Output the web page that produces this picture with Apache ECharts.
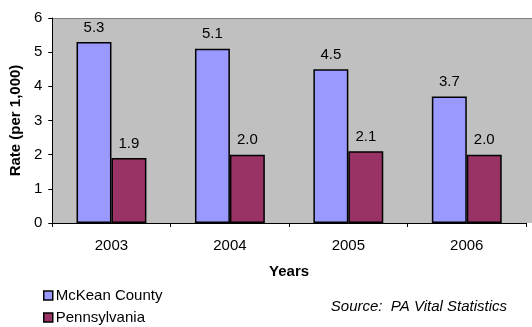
<!DOCTYPE html>
<html>
<head>
<meta charset="utf-8">
<script src="https://cdn.jsdelivr.net/npm/echarts@6/dist/echarts.min.js"></script>
<style>
  html, body { margin: 0; padding: 0; background: #fff; }
  #chart { width: 532px; height: 327px; }
</style>
</head>
<body>
<div id="chart"></div>
<script>
"use strict";
// data
var years = ["2003", "2004", "2005", "2006"];
var mckean = [5.3, 5.1, 4.5, 3.7];
var penn = [1.9, 2.0, 2.1, 2.0];
var yTicks = [0, 1, 2, 3, 4, 5, 6];

var chart = echarts.init(document.getElementById("chart"));
var font = "'Liberation Sans', Arial, sans-serif";

var barLabel = {
  show: true,
  position: "top",
  distance: 7,
  color: "#000",
  fontFamily: font,
  fontSize: 15,
  formatter: function (p) { return p.value.toFixed(1); }
};

// one legend per row, stacked
function legendRow(name, top) {
  return {
    left: 38, top: top,
    itemWidth: 9, itemHeight: 9,
    icon: "rect",
    textStyle: { fontSize: 15, color: "#000", fontFamily: font, padding: [0, 0, 0, -2] },
    data: [{ name: name, itemStyle: { borderColor: "#000", borderWidth: 1.5 } }]
  };
}

chart.setOption({
  animation: false,
  textStyle: { fontFamily: font },
  grid: {
    left: 51, right: 6, top: 18, bottom: 104,
    show: true, backgroundColor: "#c0c0c0", borderWidth: 0
  },
  graphic: [
    // plot background runs on to the right edge
    { type: "rect", shape: { x: 526, y: 18, width: 6, height: 205 }, style: { fill: "#c0c0c0" }, z: -1 },
    { type: "line", shape: { x1: 51, y1: 18.5, x2: 532, y2: 18.5 }, style: { stroke: "#808080", lineWidth: 1 } },
    { type: "text", right: 25, top: 299, style: { text: "Source:  PA Vital Statistics", font: "italic 15px " + font, fill: "#000" } }
  ],
  legend: [legendRow("McKean County", 283), legendRow("Pennsylvania", 305)],
  xAxis: {
    type: "category",
    data: years,
    name: "Years",
    nameLocation: "middle",
    nameGap: 41,
    nameTextStyle: { fontWeight: "bold", fontSize: 15, color: "#000" },
    axisLine: { lineStyle: { color: "#000" } },
    axisTick: { show: true, length: 4, lineStyle: { color: "#000" } },
    axisLabel: { color: "#000", fontSize: 15, margin: 15 },
    splitLine: { show: false }
  },
  yAxis: {
    type: "value",
    min: yTicks[0], max: yTicks[yTicks.length - 1], interval: 1,
    name: "Rate (per 1,000)",
    nameLocation: "middle",
    nameGap: 25,
    nameTextStyle: { fontWeight: "bold", fontSize: 15, color: "#000" },
    axisLine: { show: true, lineStyle: { color: "#000" } },
    axisTick: { show: true, length: 4, lineStyle: { color: "#000" } },
    axisLabel: { color: "#000", fontSize: 15, margin: 10 },
    splitLine: { show: false }
  },
  series: [
    {
      name: "McKean County", type: "bar", data: mckean,
      barWidth: "29.5%", barGap: "0%",
      itemStyle: { color: "#9999ff", borderColor: "#000", borderWidth: 1.5 },
      label: barLabel
    },
    {
      name: "Pennsylvania", type: "bar", data: penn,
      barWidth: "29.5%",
      itemStyle: { color: "#993366", borderColor: "#000", borderWidth: 1.5 },
      label: barLabel
    }
  ]
});
</script>
</body>
</html>
